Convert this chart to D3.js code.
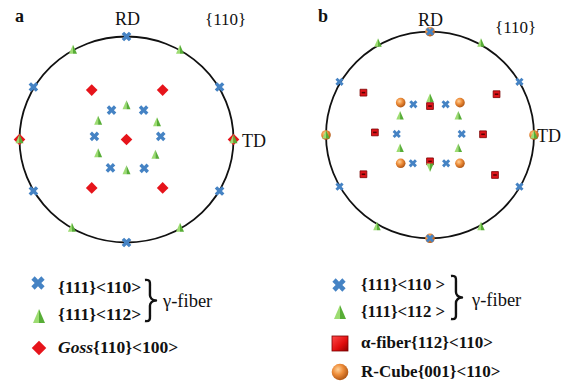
<!DOCTYPE html>
<html>
<head>
<meta charset="utf-8">
<script src="https://cdn.jsdelivr.net/npm/d3@7"></script>
<style>
  html, body { margin: 0; padding: 0; background: #fff; }
  svg { display: block; font-family: "Liberation Serif", "DejaVu Serif", serif; }
</style>
</head>
<body>
<svg id="chart" width="573" height="385"></svg>
<script>
// {110} pole figures; positions are projected (x, y) on the unit circle, y toward RD.

// Panel a
const gamma110A = [[0, 1], [-0.87, 0.51], [0.87, 0.51], [-0.87, -0.5], [0.87, -0.5], [0, -1],
  [-0.14, 0.285], [0.16, 0.285], [-0.30, 0.03], [0.32, 0.03], [-0.15, -0.275], [0.165, -0.28]];
const gamma112A = [[-0.5, 0.87], [0.5, 0.87], [-1, 0], [1, 0], [-0.51, -0.86], [0.5, -0.86],
  [0, 0.33], [-0.265, 0.18], [0.285, 0.165], [-0.265, -0.135], [0.27, -0.15], [0, -0.3]];
const gossA = [[-0.325, 0.48], [0.338, 0.48], [0, 0], [-0.325, -0.47], [0.338, -0.47], [-1, 0], [1, 0]];

// Panel b
const gamma110B = [[0, 1], [0, -1], [-0.87, 0.515], [0.86, 0.515], [-0.87, -0.5], [0.86, -0.5],
  [-0.16, 0.297], [0.15, 0.297], [-0.32, 0.01], [0.305, 0.01], [-0.165, -0.274], [0.155, -0.274]];
const gamma112BUp = [[-0.5, 0.888], [0.49, 0.888], [-0.51, -0.888], [0.49, -0.888], [-1, 0], [1, 0],
  [0, 0.355], [-0.288, 0.184], [0.272, 0.184], [-0.288, -0.129], [0.272, -0.129]];
const gamma112BDown = [[0, -0.31]];
const alphaB = [[-0.64, 0.41], [0.64, 0.395], [-0.53, 0.025], [0.51, 0.007],
  [-0.64, -0.38], [0.625, -0.387], [0, 0.28], [0, -0.255]];
const rcubeB = [[-0.282, 0.313], [0.288, 0.313], [-0.282, -0.274], [0.288, -0.274],
  [-1, 0], [1, 0], [0, 1], [0, -1]];

// Legend entries
const legendA = ["{111}<110>", "{111}<112>"];
const legendB = ["{111}<110 >", "{111}<112 >", "α-fiber{112}<110>", "R-Cube{001}<110>"];
const fiberLabel = "γ-fiber";

const BLUE = "#4583c4", RED = "#e6141b";

const svg = d3.select("#chart");
const defs = svg.append("defs");

const gSq = defs.append("linearGradient").attr("id", "sqGrad")
  .attr("x1", 0).attr("y1", 0).attr("x2", 1).attr("y2", 1);
gSq.append("stop").attr("offset", "0%").attr("stop-color", "#ff4a4a");
gSq.append("stop").attr("offset", "60%").attr("stop-color", "#e00c0c");
gSq.append("stop").attr("offset", "100%").attr("stop-color", "#8c0000");

const gSp = defs.append("radialGradient").attr("id", "spGrad")
  .attr("cx", "38%").attr("cy", "35%").attr("r", "70%");
gSp.append("stop").attr("offset", "0%").attr("stop-color", "#ffd29a");
gSp.append("stop").attr("offset", "45%").attr("stop-color", "#ee8d3a");
gSp.append("stop").attr("offset", "100%").attr("stop-color", "#a9500f");

// Symbol helpers
const crossPath = s => d3.symbol(d3.symbolCross, s)();
const squarePath = s => d3.symbol(d3.symbolSquare, s)();

function triangle(g, x, y, w, h, down) {
  const d = down ? -1 : 1;
  const top = y - d * h * 0.58, base = y + d * h * 0.42;
  g.append("path")
    .attr("d", `M${x},${top}L${x - w / 2},${base}L${x},${base}Z`)
    .attr("fill", "#9ddc72");
  g.append("path")
    .attr("d", `M${x},${top}L${x + w / 2},${base}L${x},${base}Z`)
    .attr("fill", "#57ad36");
}

function drawPanel(cfg) {
  const x = d3.scaleLinear().domain([-1, 1]).range(cfg.xr);
  const y = d3.scaleLinear().domain([-1, 1]).range(cfg.yr);
  const g = svg.append("g");
  g.append("ellipse")
    .attr("cx", x(0)).attr("cy", y(0))
    .attr("rx", (x(1) - x(-1)) / 2).attr("ry", (y(-1) - y(1)) / 2)
    .attr("fill", "none").attr("stroke", "#111").attr("stroke-width", 1.8);
  return { g, x, y };
}

function bluePts(p, data, s) {
  p.g.selectAll(null).data(data).join("path")
    .attr("d", crossPath(s))
    .attr("transform", d => `translate(${p.x(d[0])},${p.y(d[1])}) rotate(45)`)
    .attr("fill", BLUE);
}

// ---------- Panel a ----------
const pa = drawPanel({ xr: [19.5, 233.5], yr: [242.5, 36.5] });
pa.g.selectAll(null).data(gossA).join("path")
  .attr("d", squarePath(68))
  .attr("transform", d => `translate(${pa.x(d[0])},${pa.y(d[1])}) rotate(45)`)
  .attr("fill", RED);
bluePts(pa, gamma110A, 58);
gamma112A.forEach(d => triangle(pa.g, pa.x(d[0]), pa.y(d[1]), 8, 9, false));

// ---------- Panel b ----------
const pb = drawPanel({ xr: [326, 534], yr: [238.3, 31.7] });
pb.g.selectAll(null).data(rcubeB).join("circle")
  .attr("cx", d => pb.x(d[0])).attr("cy", d => pb.y(d[1])).attr("r", 4.8)
  .attr("fill", "url(#spGrad)");
pb.g.selectAll(null).data(alphaB).join("path")
  .attr("d", squarePath(46))
  .attr("transform", d => `translate(${pb.x(d[0])},${pb.y(d[1])})`)
  .attr("fill", "#e0141a").attr("stroke", "#7a0000").attr("stroke-width", 0.8);
pb.g.selectAll(null).data(alphaB).join("line")
  .attr("x1", d => pb.x(d[0]) - 1.8).attr("x2", d => pb.x(d[0]) + 1.8)
  .attr("y1", d => pb.y(d[1])).attr("y2", d => pb.y(d[1]))
  .attr("stroke", "#5a0000").attr("stroke-width", 1.6);
bluePts(pb, gamma110B, 42);
gamma112BUp.forEach(d => triangle(pb.g, pb.x(d[0]), pb.y(d[1]), 7.5, 8.5, false));
gamma112BDown.forEach(d => triangle(pb.g, pb.x(d[0]), pb.y(d[1]), 7.5, 8.5, true));

// ---------- Panel labels ----------
const txt = (x, y, s, size, opts = {}) => svg.append("text")
  .attr("x", x).attr("y", y).attr("font-size", size)
  .attr("font-weight", opts.bold ? "bold" : null)
  .attr("font-style", opts.italic ? "italic" : null)
  .attr("text-anchor", opts.anchor || "start")
  .attr("fill", "#111").text(s);

txt(15, 22, "a", 18, { bold: true });
txt(127.5, 25, "RD", 18, { anchor: "middle" });
txt(205, 25, "{110}", 17);
txt(242, 147, "TD", 18);

txt(318, 22, "b", 18, { bold: true });
txt(430.5, 26, "RD", 18, { anchor: "middle" });
txt(495, 33, "{110}", 17);
txt(537, 142, "TD", 18);

// ---------- Legends ----------
function brace(x, top, bot) {
  const h = bot - top, m = top + h / 2, w = 11;
  const xm = x + w * 0.45;
  svg.append("path")
    .attr("d", `M${x},${top + 1} C${xm + 1},${top} ${xm},${top + 4} ${xm},${top + h * 0.18}
      L${xm},${m - h * 0.12} C${xm},${m - 3} ${xm + 2},${m} ${x + w},${m}
      C${xm + 2},${m} ${xm},${m + 3} ${xm},${m + h * 0.12}
      L${xm},${bot - h * 0.18} C${xm},${bot - 4} ${xm + 1},${bot} ${x},${bot - 1}`)
    .attr("fill", "none").attr("stroke", "#111").attr("stroke-width", 2.4)
    .attr("stroke-linejoin", "round");
}

// Legend a
svg.append("path").attr("d", crossPath(110))
  .attr("transform", "translate(38,283) rotate(45)").attr("fill", BLUE);
triangle(svg, 39, 317, 12, 14, false);
svg.append("path").attr("d", squarePath(105))
  .attr("transform", "translate(39,348) rotate(45)").attr("fill", RED);
txt(58, 293, legendA[0], 17.5, { bold: true });
txt(58, 320, legendA[1], 17.5, { bold: true });
const goss = svg.append("text").attr("x", 58).attr("y", 353)
  .attr("font-size", 17.5).attr("font-weight", "bold").attr("fill", "#111");
goss.append("tspan").attr("font-style", "italic").text("Goss");
goss.append("tspan").text("{110}<100>");
brace(145, 279, 322);
txt(163, 307, fiberLabel, 18.5);

// Legend b
svg.append("path").attr("d", crossPath(110))
  .attr("transform", "translate(339,285) rotate(45)").attr("fill", BLUE);
triangle(svg, 340, 313, 12, 14, false);
svg.append("rect").attr("x", 332).attr("y", 336).attr("width", 16).attr("height", 15)
  .attr("fill", "url(#sqGrad)").attr("stroke", "#7a0000").attr("stroke-width", 0.8);
svg.append("circle").attr("cx", 340).attr("cy", 372).attr("r", 8.3)
  .attr("fill", "url(#spGrad)");
txt(361, 290, legendB[0], 16.8, { bold: true });
txt(361, 317, legendB[1], 16.8, { bold: true });
txt(361, 348, legendB[2], 17, { bold: true });
txt(361, 377, legendB[3], 17, { bold: true });
brace(451, 275, 320);
txt(472, 306, fiberLabel, 18.5);
</script>
</body>
</html>
